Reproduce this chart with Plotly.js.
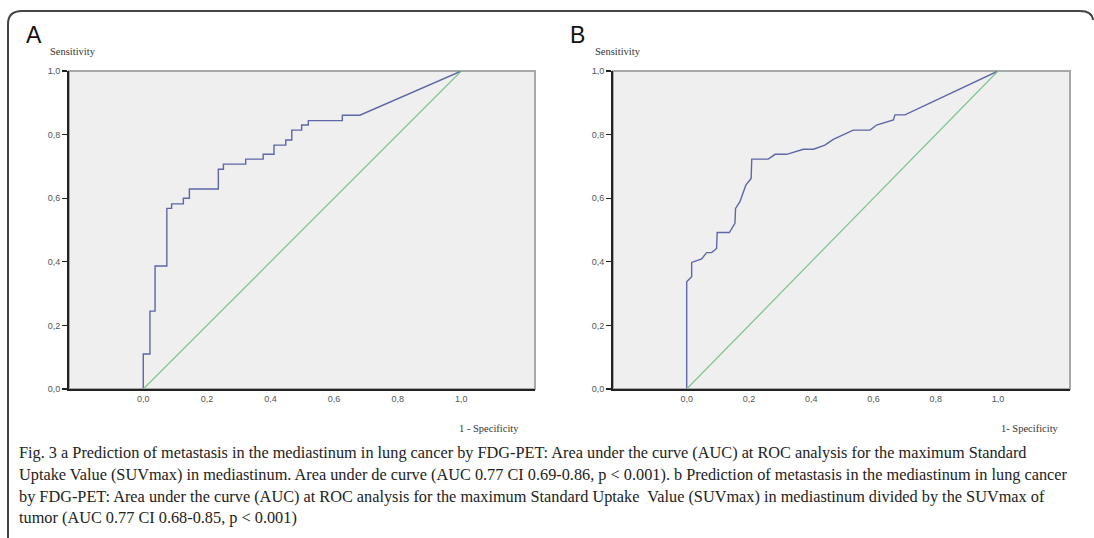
<!DOCTYPE html>
<html>
<head>
<meta charset="utf-8">
<script src="https://cdn.plot.ly/plotly-3.0.1.min.js"></script>
<style>
html,body{margin:0;padding:0;background:#fff;}
#chart{width:1094px;height:538px;}
</style>
</head>
<body>
<div id="chart"></div>
<script>
// ROC curve A: SUVmax in mediastinum
const rocA_fpr = [0, 0, 0.021, 0.021, 0.037, 0.037, 0.074, 0.074, 0.089, 0.089, 0.126, 0.126, 0.145, 0.145, 0.236, 0.236, 0.252, 0.252, 0.322, 0.322, 0.377, 0.377, 0.411, 0.411, 0.448, 0.448, 0.467, 0.467, 0.498, 0.498, 0.519, 0.519, 0.626, 0.626, 0.681, 1];
const rocA_tpr = [0, 0.110, 0.110, 0.245, 0.245, 0.387, 0.387, 0.568, 0.568, 0.582, 0.582, 0.600, 0.600, 0.629, 0.629, 0.691, 0.691, 0.707, 0.707, 0.723, 0.723, 0.738, 0.738, 0.767, 0.767, 0.783, 0.783, 0.814, 0.814, 0.830, 0.830, 0.844, 0.844, 0.861, 0.861, 1];
// ROC curve B: SUVmax mediastinum / SUVmax tumor
const rocB_fpr = [0, 0, 0.016, 0.016, 0.048, 0.064, 0.080, 0.096, 0.098, 0.137, 0.155, 0.157, 0.171, 0.190, 0.207, 0.209, 0.262, 0.284, 0.321, 0.375, 0.407, 0.444, 0.471, 0.535, 0.589, 0.610, 0.664, 0.669, 0.701, 1];
const rocB_tpr = [0, 0.337, 0.353, 0.398, 0.409, 0.429, 0.429, 0.442, 0.492, 0.492, 0.521, 0.568, 0.589, 0.641, 0.662, 0.723, 0.723, 0.738, 0.738, 0.754, 0.754, 0.767, 0.785, 0.814, 0.814, 0.830, 0.846, 0.862, 0.862, 1];
// reference line
const refLine = [0, 1];
// tick labels
const tickVals = [0, 0.2, 0.4, 0.6, 0.8, 1.0];
const tickText = ['0,0', '0,2', '0,4', '0,6', '0,8', '1,0'];
const panelLetters = ['A', 'B'];
const yTitle = 'Sensitivity';
const xTitles = ['1 - Specificity', '1- Specificity'];
const captionLines = [
  'Fig. 3 a Prediction of metastasis in the mediastinum in lung cancer by FDG-PET: Area under the curve (AUC) at ROC analysis for the maximum Standard',
  'Uptake Value (SUVmax) in mediastinum. Area under de curve (AUC 0.77 CI 0.69-0.86, p < 0.001). b Prediction of metastasis in the mediastinum in lung cancer',
  'by FDG-PET: Area under the curve (AUC) at ROC analysis for the maximum Standard Uptake  Value (SUVmax) in mediastinum divided by the SUVmax of',
  'tumor (AUC 0.77 CI 0.68-0.85, p < 0.001)'
];

const W = 1094, H = 538;
const px = v => v / W;
const py = v => 1 - v / H;

const curveColor = '#5e67a8';
const diagColor = '#7cc48c';

const traces = [
  {x: rocA_fpr, y: rocA_tpr, xaxis: 'x', yaxis: 'y', mode: 'lines', line: {color: curveColor, width: 1.4}, hoverinfo: 'skip'},
  {x: refLine, y: refLine, xaxis: 'x', yaxis: 'y', mode: 'lines', line: {color: diagColor, width: 1.2}, hoverinfo: 'skip'},
  {x: rocB_fpr, y: rocB_tpr, xaxis: 'x2', yaxis: 'y2', mode: 'lines', line: {color: curveColor, width: 1.4}, hoverinfo: 'skip'},
  {x: refLine, y: refLine, xaxis: 'x2', yaxis: 'y2', mode: 'lines', line: {color: diagColor, width: 1.2}, hoverinfo: 'skip'}
];

const tickFont = {family: 'Liberation Sans, Arial, sans-serif', size: 9, color: '#555'};
function xax(domain, range, anchor) {
  return {domain: domain, range: range, anchor: anchor, tickvals: tickVals, ticktext: tickText,
    ticks: '', showgrid: false, zeroline: false, showline: true, linecolor: '#222', linewidth: 2,
    tickfont: tickFont, fixedrange: true};
}
function yax(domain, anchor) {
  return {domain: domain, range: [0, 1], anchor: anchor, tickvals: tickVals, ticktext: tickText,
    ticks: 'outside', ticklen: 5, tickwidth: 1.2, tickcolor: '#222', showgrid: false, zeroline: false,
    showline: true, linecolor: '#222', linewidth: 2, tickfont: tickFont, fixedrange: true};
}

const yDom = [py(389), py(71)];
const layout = {
  width: W, height: H,
  margin: {l: 0, r: 0, t: 0, b: 0},
  paper_bgcolor: '#ffffff',
  plot_bgcolor: '#efefef',
  showlegend: false,
  xaxis: xax([px(69), px(535)], [-0.2336, 1.2318], 'y'),
  yaxis: yax(yDom, 'x'),
  xaxis2: xax([px(613), px(1070)], [-0.2367, 1.2313], 'y2'),
  yaxis2: yax(yDom, 'x2'),
  shapes: [
    {type: 'rect', xref: 'x domain', yref: 'y domain', x0: 0, x1: 1, y0: 0, y1: 1, line: {color: '#a8a8a8', width: 2}, layer: 'below'},
    {type: 'rect', xref: 'x2 domain', yref: 'y2 domain', x0: 0, x1: 1, y0: 0, y1: 1, line: {color: '#a8a8a8', width: 2}, layer: 'below'},
    {type: 'path', xref: 'paper', yref: 'paper',
     path: 'M ' + px(8) + ' ' + py(540) + ' L ' + px(8) + ' ' + py(24) + ' Q ' + px(8) + ' ' + py(11) + ' ' + px(22) + ' ' + py(11) +
           ' L ' + px(1080) + ' ' + py(11) + ' Q ' + px(1092) + ' ' + py(11) + ' ' + px(1093) + ' ' + py(20),
     line: {color: '#444', width: 2}}
  ],
  annotations: []
};

const serif = 'Liberation Serif, Times New Roman, serif';
const letterX = [24, 568];
const sensX = [48, 593];
const specRight = [521, 1061];
for (let i = 0; i < 2; i++) {
  layout.annotations.push({text: panelLetters[i], xref: 'paper', yref: 'paper', x: px(letterX[i]), y: py(35),
    xanchor: 'left', yanchor: 'middle', showarrow: false, font: {family: 'Liberation Sans, Arial, sans-serif', size: 23, color: '#111'}});
  layout.annotations.push({text: yTitle, xref: 'paper', yref: 'paper', x: px(sensX[i]), y: py(52),
    xanchor: 'left', yanchor: 'middle', showarrow: false, font: {family: serif, size: 10.5, color: '#333'}});
  layout.annotations.push({text: xTitles[i], xref: 'paper', yref: 'paper', x: px(specRight[i]), y: py(428),
    xanchor: 'right', yanchor: 'middle', showarrow: false, font: {family: serif, size: 10.5, color: '#333'}});
}
const capY = [452, 474, 496, 517];
captionLines.forEach((t, i) => {
  layout.annotations.push({text: t.replace(/</g, '&lt;'), xref: 'paper', yref: 'paper', x: px(17), y: py(capY[i]),
    xanchor: 'left', yanchor: 'middle', showarrow: false, font: {family: serif, size: 16.3, color: '#222'}});
});

Plotly.newPlot('chart', traces, layout, {displayModeBar: false, staticPlot: true});
</script>
</body>
</html>
